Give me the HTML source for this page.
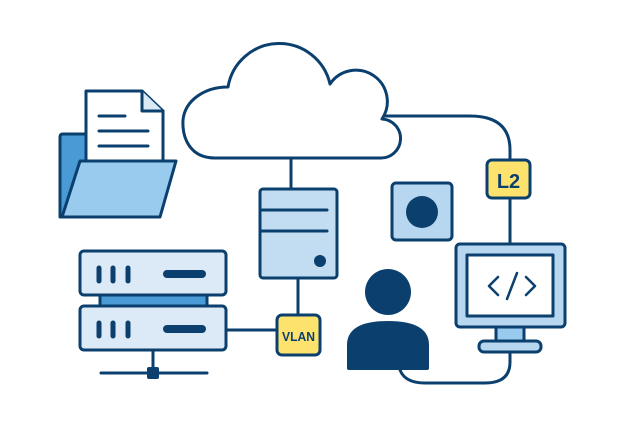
<!DOCTYPE html>
<html><head><style>body{margin:0;background:#fff}svg{display:block}</style></head><body>
<svg width="640" height="427" viewBox="0 0 640 427" xmlns="http://www.w3.org/2000/svg">
<g stroke="#0b406e" stroke-width="3" fill="none" stroke-linecap="round" stroke-linejoin="round">
<path d="M382,116 H470 Q510,116 510,150 V160"/>
<path d="M510,198 V244"/>
<path d="M510,352 V362 Q510,383 485,383 H425 Q405,383 400,370"/>
<line x1="291" y1="158" x2="291" y2="189"/>
<line x1="298" y1="278" x2="298" y2="315"/>
<line x1="226" y1="330" x2="277" y2="330"/>
<line x1="153" y1="350" x2="153" y2="370"/>
<line x1="101" y1="373" x2="207" y2="373"/>
<path fill="#fff" d="M215,158 C190,158 182,138 183,120 C185,100 205,87 228,87 A52,52 0 0 1 330,84 A30,30 0 0 1 382,119 A19,19 0 0 1 380,158 Z"/>
<path fill="#4a9ad6" d="M60,217 V137 Q60,134 63,134 H90 V217 Z"/>
<path fill="#fff" d="M86,91 H142 L163,111 V165 H86 Z"/>
<path fill="#d9e9f6" d="M142,91 V111 H163"/>
<line x1="99" y1="116" x2="125" y2="116"/>
<line x1="99" y1="131" x2="148" y2="131"/>
<line x1="99" y1="146" x2="148" y2="146"/>
<path fill="#98cbee" d="M80,161 H176 L160,217 H62 Z"/>
<rect x="260" y="189" width="77" height="89" rx="3" fill="#c2dcf1"/>
<line x1="262" y1="210" x2="327" y2="210"/>
<line x1="262" y1="231" x2="327" y2="231"/>
<rect x="100" y="295" width="107" height="11" fill="#4a9ad6"/>
<rect x="80" y="251" width="146" height="44" rx="4" fill="#dce9f6"/>
<rect x="80" y="306" width="146" height="44" rx="4" fill="#dce9f6"/>
<g stroke-width="5"><line x1="99" y1="268" x2="99" y2="281"/><line x1="113" y1="268" x2="113" y2="281"/><line x1="128" y1="268" x2="128" y2="281"/>
<line x1="99" y1="323" x2="99" y2="336"/><line x1="113" y1="323" x2="113" y2="336"/><line x1="128" y1="323" x2="128" y2="336"/></g>
<g stroke-width="8"><line x1="167" y1="274" x2="202" y2="274"/><line x1="167" y1="329" x2="202" y2="329"/></g>
<rect x="277" y="315" width="43" height="40" rx="5" fill="#fde36d"/>
<rect x="487" y="160" width="43" height="38" rx="5" fill="#fde36d"/>
<rect x="392" y="183" width="60" height="57" rx="4" fill="#b7d6ef"/>
<rect x="496" y="327" width="28" height="14" fill="#98cbee"/>
<rect x="479" y="341" width="62" height="11" rx="5" fill="#b7d6ef"/>
<rect x="456" y="244" width="109" height="83" rx="4" fill="#b7d6ef"/>
<rect x="467" y="255" width="86" height="61" fill="#fff"/>
<path d="M498,277 L489,286 L498,295 M517,273 L507,299 M526,277 L535,286 L526,295" stroke-width="2.5"/>
</g>
<g fill="#0b406e">
<circle cx="320" cy="261" r="6"/>
<rect x="147" y="367" width="12" height="12" rx="2"/>
<circle cx="422" cy="212" r="16"/>
<circle cx="388" cy="292" r="23"/>
<path d="M347,368 V345 Q347,321 388,321 Q429,321 429,345 V368 Q429,370 427,370 H349 Q347,370 347,368 Z"/>
<text x="298.5" y="341" font-family="Liberation Sans, sans-serif" font-size="13" font-weight="bold" text-anchor="middle" textLength="33" lengthAdjust="spacingAndGlyphs">VLAN</text>
<text x="508.5" y="188" font-family="Liberation Sans, sans-serif" font-size="20" font-weight="bold" text-anchor="middle">L2</text>
</g>
</svg>
</body></html>
